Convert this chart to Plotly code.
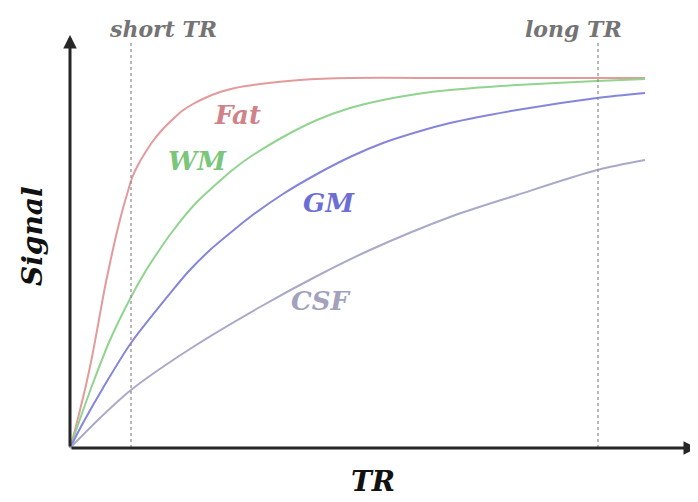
import plotly.graph_objects as go

# Values (arbitrary units; TR to the right, signal upward)
fat_tr = [0, 5, 10, 16, 22, 28, 34, 40, 46, 52, 58, 62, 68, 75, 83, 92, 102, 112, 123, 135, 150, 165, 190, 230, 280, 380, 480, 575]
fat_sig = [0, 18, 38, 63, 91, 123, 156, 185, 212, 236, 257, 270, 283, 295, 307, 318, 328, 337, 344, 350, 356, 360, 364, 368, 370, 370, 370, 370]

wm_tr = [0, 10, 23, 40, 61, 75, 90, 102, 125, 152, 165, 180, 213, 247, 280, 313, 347, 380, 447, 527, 575]
wm_sig = [0, 29, 65, 108, 151, 176, 199, 216, 244, 269, 280, 291, 311, 328, 340, 348, 354, 358, 363, 367, 369]

gm_tr = [0, 13, 33, 61, 107, 118, 140, 165, 180, 213, 247, 280, 313, 347, 380, 447, 527, 575]
gm_sig = [0, 25, 60, 105, 163, 176, 198, 219, 231, 254, 274, 291, 305, 316, 325, 338, 350, 355]

csf_tr = [0, 30, 61, 123, 190, 247, 300, 380, 447, 527, 575]
csf_sig = [0, 30, 58, 101, 141, 172, 198, 231, 253, 278, 288]

short_tr = 61
long_tr = 528

series = [
    ("Fat", fat_tr, fat_sig, "#e39a9c", "#cf8288", 167, 333),
    ("WM", wm_tr, wm_sig, "#90d490", "#7cc67c", 127, 287),
    ("GM", gm_tr, gm_sig, "#8585dc", "#6d6dd6", 259, 245),
    ("CSF", csf_tr, csf_sig, "#a9a9c9", "#a2a2bc", 250, 147),
]

FONT = "DejaVu Serif"

fig = go.Figure()
for name, xs, ys, lc, tc, lx, ly in series:
    fig.add_trace(go.Scatter(x=xs, y=ys, mode="lines", name=name,
                             line=dict(color=lc, width=2, shape="spline", smoothing=0.8),
                             showlegend=False, hoverinfo="skip", cliponaxis=False))
    fig.add_annotation(x=lx, y=ly, xref="x", yref="y", text=name, showarrow=False,
                       font=dict(family=FONT, size=26, color=tc, weight="bold", style="italic"))

# dotted TR markers
for xv in (short_tr, long_tr):
    fig.add_shape(type="line", x0=xv, x1=xv, y0=0, y1=406, xref="x", yref="y",
                  line=dict(color="#8a8a8a", width=1.2, dash="dot"))

fig.add_annotation(x=93, y=419, text="short TR", showarrow=False,
                   font=dict(family=FONT, size=22, color="#747474", weight="bold", style="italic"))
fig.add_annotation(x=503, y=419, text="long TR", showarrow=False,
                   font=dict(family=FONT, size=22, color="#747474", weight="bold", style="italic"))

# axes with arrows
fig.add_annotation(x=627, y=0, ax=0, ay=0, xref="x", yref="y", axref="x", ayref="y",
                   showarrow=True, arrowhead=2, arrowsize=0.9, arrowwidth=3, arrowcolor="#262626", text="")
fig.add_annotation(x=0, y=413, ax=0, ay=0, xref="x", yref="y", axref="x", ayref="y",
                   showarrow=True, arrowhead=2, arrowsize=0.9, arrowwidth=3, arrowcolor="#262626", text="")

fig.add_annotation(x=-38, y=212, text="Signal", showarrow=False, textangle=-90,
                   font=dict(family=FONT, size=28, color="#111111", weight="bold", style="italic"))
fig.add_annotation(x=303, y=-33, text="TR", showarrow=False,
                   font=dict(family=FONT, size=28, color="#111111", weight="bold", style="italic"))

fig.update_layout(
    width=690, height=494,
    margin=dict(l=0, r=0, t=0, b=0),
    paper_bgcolor="white", plot_bgcolor="white",
    xaxis=dict(range=[-62, 628], visible=False, fixedrange=True),
    yaxis=dict(range=[-54, 440], visible=False, fixedrange=True),
)

fig.write_html("out.html")
